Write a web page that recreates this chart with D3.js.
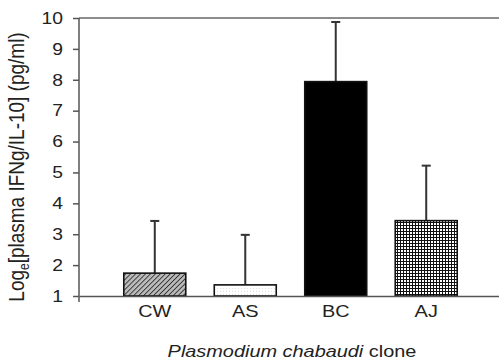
<!DOCTYPE html>
<html>
<head>
<meta charset="utf-8">
<script src="https://d3js.org/d3.v7.min.js"></script>
<style>
  body { margin: 0; background: #fff; }
  text { font-family: "Liberation Sans", Arial, sans-serif; fill: #222; }
</style>
</head>
<body>
<svg id="chart" width="499" height="360"></svg>
<script>
  // data
  var clones = ["CW", "AS", "BC", "AJ"];
  var means = [1.74, 1.36, 7.94, 3.44];
  var upper = [3.43, 2.98, 9.87, 5.22];
  var fills = ["url(#hatch)", "url(#dots)", "#000", "url(#grid)"];
  var yTicks = [1, 2, 3, 4, 5, 6, 7, 8, 9, 10];

  var margin = {top: 18, right: -3, bottom: 64, left: 79},
      width = 499 - margin.left - margin.right,
      height = 360 - margin.top - margin.bottom;

  var stretch = 1.17; // the figure's text is a little wider than plain Arial

  var svg = d3.select("#chart");
  var defs = svg.append("defs");

  // diagonal hatch
  var hatch = defs.append("pattern").attr("id", "hatch")
    .attr("patternUnits", "userSpaceOnUse").attr("width", 3.5).attr("height", 3.5)
    .attr("patternTransform", "rotate(45)");
  hatch.append("rect").attr("width", 3.5).attr("height", 3.5).attr("fill", "#bbb");
  hatch.append("line").attr("x1", 0).attr("y1", 0).attr("x2", 0).attr("y2", 3.5)
    .attr("stroke", "#333").attr("stroke-width", 1.8);

  // light dots
  var dots = defs.append("pattern").attr("id", "dots")
    .attr("patternUnits", "userSpaceOnUse").attr("width", 3).attr("height", 3);
  dots.append("rect").attr("width", 3).attr("height", 3).attr("fill", "#fff");
  dots.append("rect").attr("width", 1).attr("height", 1).attr("fill", "#ddd");

  // checker grid
  var grid = defs.append("pattern").attr("id", "grid")
    .attr("patternUnits", "userSpaceOnUse").attr("width", 3).attr("height", 3);
  grid.append("rect").attr("width", 3).attr("height", 3).attr("fill", "#111");
  grid.append("rect").attr("x", 1).attr("y", 1).attr("width", 2).attr("height", 2).attr("fill", "#fff");

  var g = svg.append("g")
    .attr("transform", "translate(" + margin.left + "," + margin.top + ")");

  var x = d3.scaleBand()
    .range([0, width])
    .paddingInner(0.315)
    .paddingOuter(0.495)
    .domain(clones);

  var y = d3.scaleLinear()
    .range([height, 0])
    .domain([1, 10]);

  // top frame line
  g.append("line")
    .attr("x1", 0).attr("x2", width)
    .attr("y1", 0).attr("y2", 0)
    .attr("stroke", "#666").attr("stroke-width", 1.5);

  // error bars (drawn first, bars cover the bottom)
  var errs = g.selectAll(".err").data(clones).enter().append("g");
  errs.append("line")
    .attr("x1", d => x(d) + x.bandwidth() / 2)
    .attr("x2", d => x(d) + x.bandwidth() / 2)
    .attr("y1", (d, i) => y(means[i]))
    .attr("y2", (d, i) => y(upper[i]))
    .attr("stroke", "#333").attr("stroke-width", 2);
  errs.append("line")
    .attr("x1", d => x(d) + x.bandwidth() / 2 - 4.5)
    .attr("x2", d => x(d) + x.bandwidth() / 2 + 4.5)
    .attr("y1", (d, i) => y(upper[i]))
    .attr("y2", (d, i) => y(upper[i]))
    .attr("stroke", "#333").attr("stroke-width", 2);

  g.selectAll(".bar").data(clones).enter().append("rect")
    .attr("x", d => x(d))
    .attr("width", x.bandwidth())
    .attr("y", (d, i) => y(means[i]))
    .attr("height", (d, i) => height - y(means[i]))
    .attr("fill", (d, i) => fills[i])
    .attr("stroke", "#111").attr("stroke-width", 1.6);

  // x axis
  var xAxis = g.append("g")
    .attr("transform", "translate(0," + height + ")")
    .call(d3.axisBottom(x).tickSize(0).tickPadding(9));
  xAxis.select(".domain").attr("stroke", "#555").attr("stroke-width", 1.5);
  xAxis.selectAll("text")
    .style("font-family", "Liberation Sans, Arial, sans-serif")
    .style("font-size", "17px").attr("fill", "#222")
    .attr("transform", "scale(" + stretch + ",1)");

  // y axis
  var yAxis = g.append("g")
    .call(d3.axisLeft(y).tickValues(yTicks).tickSize(6).tickSizeOuter(0));
  yAxis.select(".domain").attr("stroke", "#555").attr("stroke-width", 1.5)
    .attr("d", "M0," + (height + 6) + "V0");
  yAxis.selectAll(".tick line").attr("stroke", "#555").attr("stroke-width", 1.5);
  yAxis.selectAll("text")
    .attr("x", 0)
    .attr("transform", "translate(-16,0) scale(" + stretch + ",1)")
    .style("font-family", "Liberation Sans, Arial, sans-serif")
    .style("font-size", "16.5px").attr("fill", "#222");

  // y axis title
  var yt = svg.append("text")
    .attr("transform", "translate(24,167) rotate(-90) scale(1," + stretch + ")")
    .attr("text-anchor", "middle")
    .style("font-size", "19px");
  yt.append("tspan").text("Log");
  yt.append("tspan").text("e").attr("dy", 4).style("font-size", "12px");
  yt.append("tspan").text("[plasma IFNg/IL-10] (pg/ml)").attr("dy", -4);

  // x axis title
  var xt = svg.append("text")
    .attr("transform", "translate(292,357) scale(" + stretch + ",1)")
    .attr("text-anchor", "middle")
    .style("font-size", "17px");
  xt.append("tspan").text("Plasmodium chabaudi").style("font-style", "italic");
  xt.append("tspan").text(" clone");
</script>
</body>
</html>
